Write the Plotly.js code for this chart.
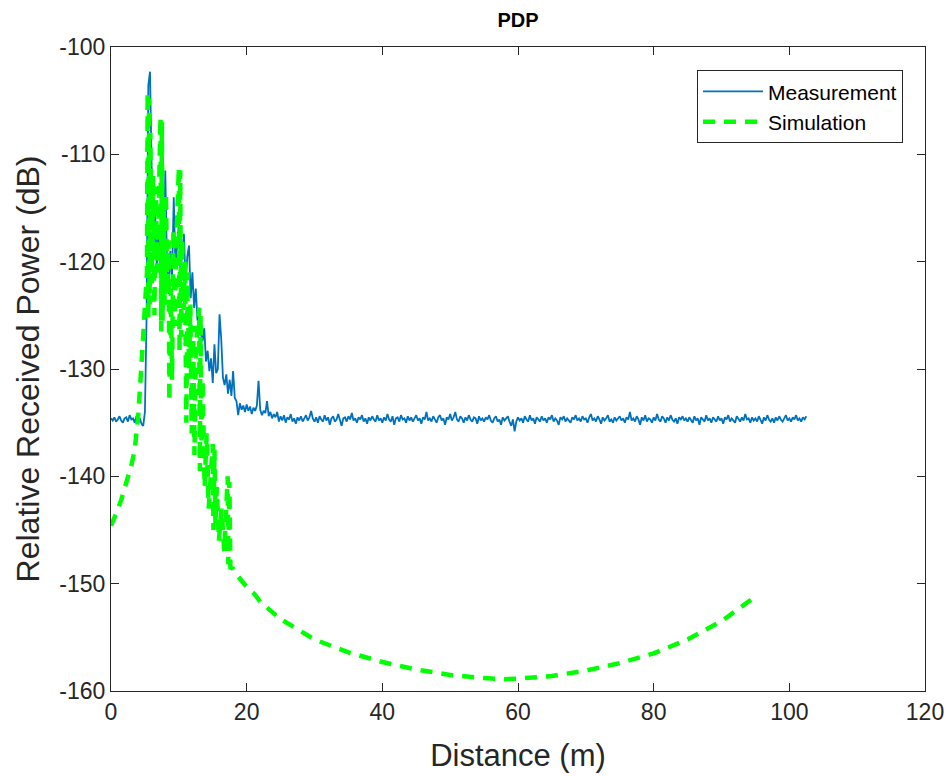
<!DOCTYPE html>
<html>
<head>
<meta charset="utf-8">
<script src="https://cdn.plot.ly/plotly-3.0.1.min.js"></script>
<style>
html,body{margin:0;padding:0;background:#fff;}
#chart{width:950px;height:776px;}
</style>
</head>
<body>
<div id="chart"></div>
<script>
// Measurement: sampled every 0.25 m starting at 0 m (x0/dx handled by Plotly)
const measStart = 0;
const measStep = 0.25;
const measPower = [
  // 0 - 4.75 m
  -134.6,-134.8,-134.5,-134.9,-134.7,-134.4,-134.8,-135.0,-134.6,-134.5,-134.9,-134.3,-134.7,-134.6,-135.0,-134.4,-134.8,-134.6,-135.1,-135.3,
  // 5 - 9.75 m
  -134.0,-125.0,-103.6,-102.3,-111.5,-119.0,-115.2,-120.5,-117.0,-121.0,-118.0,-122.0,-111.5,-120.0,-123.0,-119.0,-121.5,-114.0,-120.5,-118.0,
  // 10 - 14.75 m
  -116.5,-121.0,-119.0,-117.4,-122.0,-119.5,-118.5,-123.4,-121.0,-124.3,-122.5,-125.5,-124.3,-126.7,-127.4,-126.2,-129.3,-128.3,-130.2,-129.0,
  // 15 - 19.75 m
  -131.3,-127.7,-130.4,-130.0,-124.9,-127.2,-130.8,-131.5,-130.5,-132.3,-131.0,-132.5,-130.2,-132.7,-133.0,-134.3,-133.2,-133.8,-133.4,-134.0,
  // 20 - 24.75 m
  -133.3,-133.9,-133.5,-134.2,-133.6,-133.9,-133.4,-131.1,-133.8,-134.3,-133.9,-134.1,-133.0,-134.4,-134.0,-134.6,-134.2,-134.5,-134.0,-134.9,
  // 25 - 29.75 m
  -134.4,-134.8,-134.3,-135.0,-134.5,-134.7,-134.2,-134.9,-134.6,-135.1,-134.5,-134.8,-134.4,-134.9,-134.6,-134.3,-134.8,-134.5,-133.9,-134.6,
  // 30 - 34.75 m
  -134.9,-134.5,-135.0,-134.4,-134.7,-134.9,-134.3,-134.8,-134.5,-135.2,-134.6,-134.4,-134.9,-134.7,-134.2,-134.8,-135.3,-134.6,-134.5,-134.9,
  // 35 - 39.75 m
  -134.4,-134.7,-134.1,-134.8,-134.6,-135.0,-134.5,-134.7,-134.3,-134.9,-134.6,-135.1,-134.5,-134.8,-134.4,-134.7,-134.9,-134.3,-134.8,-134.6,
  // 40 - 44.75 m
  -135.0,-134.5,-134.8,-134.2,-134.7,-134.9,-134.4,-135.2,-134.6,-134.5,-134.9,-134.3,-134.7,-134.6,-135.0,-134.4,-134.8,-134.5,-134.9,-134.6,
  // 45 - 49.75 m
  -134.3,-134.8,-134.6,-135.1,-134.5,-134.7,-134.0,-134.8,-134.6,-134.9,-134.4,-134.7,-135.0,-134.5,-134.3,-134.8,-134.6,-135.2,-134.5,-134.7,
  // 50 - 54.75 m
  -134.2,-134.8,-134.5,-134.0,-134.7,-134.9,-134.4,-134.6,-135.0,-134.5,-134.8,-134.3,-134.7,-134.9,-134.5,-134.6,-135.1,-134.4,-134.8,-134.6,
  // 55 - 59.75 m
  -134.9,-134.5,-134.7,-134.3,-134.8,-135.0,-134.6,-134.4,-134.9,-134.7,-135.2,-134.5,-134.8,-134.6,-134.4,-134.9,-135.3,-134.7,-135.8,-134.9,
  // 60 - 64.75 m
  -134.5,-134.8,-134.6,-135.0,-134.4,-134.7,-134.9,-134.3,-134.8,-134.6,-135.1,-134.5,-134.7,-134.9,-134.4,-134.8,-134.6,-135.0,-134.5,-134.7,
  // 65 - 69.75 m
  -134.3,-134.9,-134.6,-134.8,-135.2,-134.5,-134.7,-134.4,-134.9,-134.6,-134.8,-135.0,-134.5,-134.7,-134.3,-134.8,-134.6,-134.9,-134.4,-134.7,
  // 70 - 74.75 m
  -134.6,-135.0,-134.5,-134.2,-134.8,-134.6,-134.9,-134.4,-134.7,-135.1,-134.5,-134.8,-134.6,-134.3,-134.9,-134.7,-135.0,-134.5,-134.8,-134.6,
  // 75 - 79.75 m
  -134.4,-134.8,-134.6,-135.0,-134.5,-134.7,-134.0,-134.8,-134.6,-134.9,-134.4,-134.7,-135.2,-134.5,-134.8,-134.3,-134.9,-134.6,-134.7,-135.0,
  // 80 - 84.75 m
  -134.5,-134.8,-134.2,-134.7,-134.9,-134.4,-134.6,-135.0,-134.5,-134.8,-134.3,-134.7,-134.9,-134.6,-135.1,-134.5,-134.7,-134.4,-134.8,-134.6,
  // 85 - 89.75 m
  -134.9,-134.5,-134.7,-135.0,-134.4,-134.8,-134.6,-135.2,-134.5,-134.7,-134.9,-134.3,-134.8,-134.6,-135.0,-134.5,-134.7,-134.9,-134.4,-134.8,
  // 90 - 94.75 m
  -134.6,-135.1,-134.5,-134.7,-134.3,-134.9,-134.6,-134.8,-135.0,-134.4,-134.7,-134.9,-134.5,-134.8,-134.2,-134.7,-134.6,-135.0,-134.5,-134.8,
  // 95 - 99.75 m
  -134.6,-134.9,-134.4,-134.7,-135.1,-134.5,-134.8,-134.3,-134.7,-134.9,-134.6,-135.0,-134.5,-134.8,-134.4,-134.7,-134.9,-134.6,-134.3,-134.8,
  // 100 - 102.5 m
  -134.6,-134.9,-134.5,-134.7,-134.3,-134.8,-134.6,-134.9,-134.5,-134.7,-134.4
];

// Simulation
const simDistance = [
  0,0.5,1,1.5,2,2.5,3,3.5,4,4.5,5,5.3,
  5.4,5.5,5.6,5.7,5.8,
  6.0,6.2,6.4,6.6,6.8,7.0,
  7.3,7.4,7.5,7.6,7.75,
  7.9,8.1,8.3,8.5,8.6,8.8,9.0,9.2,9.4,9.6,
  10.0,10.1,10.2,10.35,10.5,10.7,10.9,11.1,
  11.3,11.5,11.7,11.9,12.1,12.3,12.5,
  13.0,13.1,13.2,13.35,13.5,
  13.8,14.1,14.4,14.7,
  15.0,15.1,15.25,15.4,15.6,15.9,16.3,16.7,
  17.2,17.3,17.45,17.6,
  18.0,18.7,20,21.2,22,25,28,30,35,40,45,50,55,58,60,65,70,75,80,85,90,95
];
const simPower = [
  -144.6,-143.9,-143.1,-142.2,-141.2,-140.2,-139.0,-137.5,-134.5,-129.5,-124.8,-121.0,
  -104.2,-125.5,-104.8,-124.0,-108.0,
  -122.0,-112.0,-125.0,-113.0,-121.0,-116.0,
  -106.5,-126.5,-107.0,-125.5,-114.0,
  -124.0,-113.6,-123.0,-118.0,-133.0,-122.5,-131.0,-117.0,-126.0,-119.0,
  -111.2,-128.5,-111.5,-127.0,-118.0,-124.5,-120.0,-135.0,
  -121.0,-130.0,-124.0,-136.0,-126.0,-138.0,-128.0,
  -124.3,-139.5,-125.0,-138.0,-131.0,
  -141.0,-136.0,-143.0,-139.0,
  -137.0,-145.0,-137.5,-144.5,-141.0,-146.0,-143.0,-147.0,
  -140.0,-148.2,-140.5,-148.5,
  -148.6,-149.3,-150.3,-151.0,-151.7,-153.3,-154.5,-155.2,-156.4,-157.3,-158.0,-158.5,-158.8,-158.9,-158.85,-158.6,-158.1,-157.4,-156.5,-155.2,-153.5,-151.2
];

const xTicks = [0,20,40,60,80,100,120];
const yTicks = [-160,-150,-140,-130,-120,-110,-100];
const yTickText = ['-160','-150','-140','-130','-120','-110','-100'];

const axisColor = '#262626';
const fontFam = 'Liberation Sans, Arial, Helvetica, sans-serif';

const traces = [
  {
    type: 'scatter', mode: 'lines', name: 'Measurement',
    x0: measStart, dx: measStep, y: measPower,
    line: {color: '#0072BD', width: 1.8}
  },
  {
    type: 'scatter', mode: 'lines', name: 'Simulation',
    x: simDistance, y: simPower,
    line: {color: '#00FF00', width: 4.5, dash: '12px,9px'}
  }
];

const layout = {
  width: 950, height: 776,
  margin: {l: 111, r: 25, t: 47, b: 85},
  paper_bgcolor: '#ffffff', plot_bgcolor: '#ffffff',
  font: {family: fontFam, color: axisColor, size: 22},
  title: {text: '<b>PDP</b>', x: 0.5, xref: 'paper', xanchor: 'center', y: 0.974, yanchor: 'middle', font: {size: 20, color: '#000'}},
  showlegend: true,
  legend: {
    x: 0.973, y: 0.964, xanchor: 'right', yanchor: 'top',
    bgcolor: '#ffffff', bordercolor: axisColor, borderwidth: 1,
    font: {size: 21, color: '#000'}, itemwidth: 60, tracegroupgap: 0
  },
  xaxis: {
    range: [0, 120], tickvals: xTicks, ticktext: xTicks.map(String),
    showgrid: false, zeroline: false, showline: true, linecolor: axisColor, linewidth: 1,
    mirror: 'allticks', ticks: 'inside', ticklen: 8, tickcolor: axisColor, tickwidth: 1,
    tickfont: {size: 23, color: axisColor},
    title: {text: 'Distance (m)', font: {size: 31, color: axisColor}, standoff: 20}
  },
  yaxis: {
    range: [-160, -100], tickvals: yTicks, ticktext: yTickText,
    showgrid: false, zeroline: false, showline: true, linecolor: axisColor, linewidth: 1,
    mirror: 'allticks', ticks: 'inside', ticklen: 8, tickcolor: axisColor, tickwidth: 1,
    tickfont: {size: 23, color: axisColor},
    title: {text: 'Relative Received Power (dB)', font: {size: 32, color: axisColor}, standoff: 10}
  }
};

Plotly.newPlot('chart', traces, layout, {displayModeBar: false, staticPlot: true});
</script>
</body>
</html>
